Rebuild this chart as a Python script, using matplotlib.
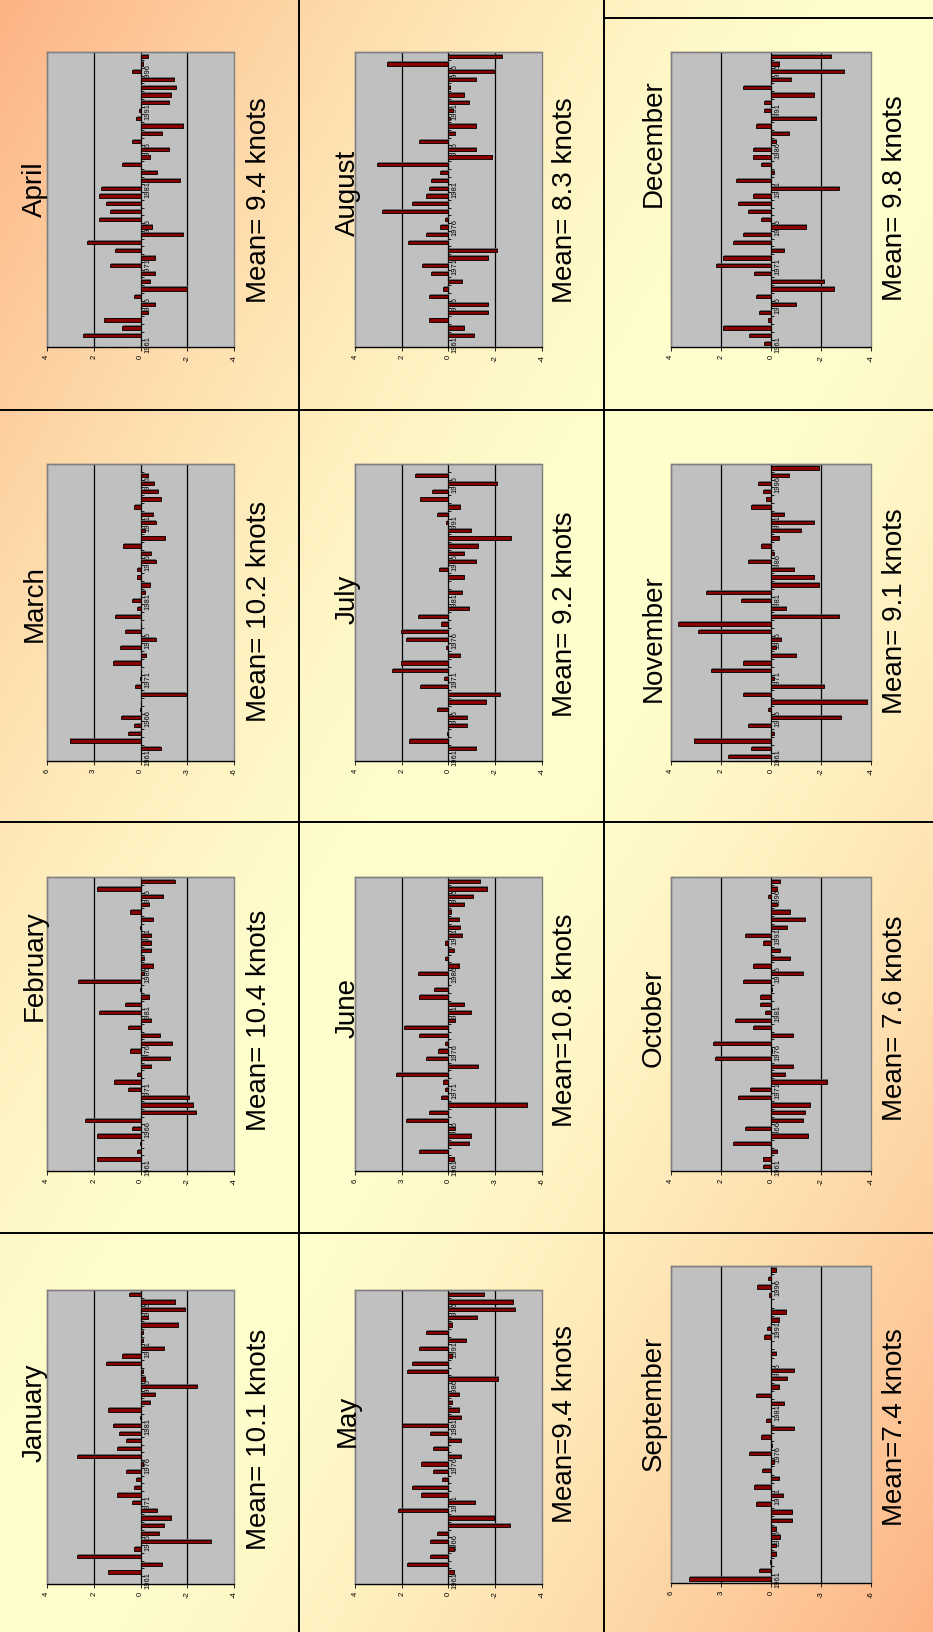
import numpy as np
import matplotlib
matplotlib.use("Agg")
import matplotlib.pyplot as plt
from matplotlib.patches import Rectangle
from matplotlib import patheffects as pe

plt.rcParams['font.family'] = ['Liberation Sans', 'DejaVu Sans']

# ---- data: monthly wind-speed anomalies (knots), 1961-1998 ----
years = list(range(1961, 1999))
label_years = [1961, 1966, 1971, 1976, 1981, 1986, 1991, 1996]

jan = [0, 1.39, -0.9, 2.69, 0.28, -2.99, -0.8, -1.0, -1.29, -0.7, 0.38, 1.0, 0.28, 0.18, 0.6, -0.1,
       2.69, 1.0, 0.6, 0.9, 1.19, 0.02, 1.39, -0.4, -0.6, -2.39, -0.2, -0.1, 1.49, 0.8, -1.0, -0.1,
       -0.1, -1.59, -0.3, -1.89, -1.49, 0.48]
feb = [0, 1.85, 0.15, 0.03, 1.85, 0.36, 2.35, -2.35, -2.25, -2.05, 0.55, 1.15, 0.16, -0.46, -1.25, 0.46,
       -1.35, -0.85, 0.55, -0.46, 1.75, 0.65, -0.36, 0.03, 2.65, -0.14, -0.55, -0.14, -0.46, -0.46, -0.46,
       0.03, -0.55, 0.46, -0.36, -0.95, 1.85, -1.45]
mar = [0, -1.28, 4.54, 0.81, 0.43, 1.24, 0.03, -0.03, -2.88, 0.34, 0.02, -0.03, 1.75, -0.36, 1.32, -0.96,
       1.02, -0.03, 1.62, 0.23, 0.53, -0.26, -0.58, 0.23, 0.23, -0.96, -0.66, 1.13, -1.56, -0.26, -0.96,
       -0.77, 0.43, -1.34, -1.15, -0.87, -0.47, 0]
apr = [0, 2.47, 0.77, 1.56, -0.31, -0.6, 0.28, -2.0, -0.41, -0.6, 1.28, -0.6, 1.07, 2.28, -1.8, -0.5,
       1.78, 1.28, 1.48, 1.78, 1.68, -1.7, -0.71, 0.77, -0.41, -1.21, 0.37, -0.91, -1.8, 0.18, 0.08,
       -1.21, -1.31, -1.51, -1.41, 0.37, -0.11, -0.31]
may = [0, -0.24, 1.77, 0.77, -0.24, 0.77, 0.47, -2.66, -1.94, 2.17, -1.14, 1.17, 1.57, 0.27, 0.67, 1.17,
       -0.54, 0.67, -0.54, 0.77, 1.97, -0.54, -0.44, -0.14, -0.44, 0.02, -2.14, 1.77, 1.57, -0.14, 1.27,
       -0.74, 0.97, -0.14, -1.24, -2.86, -2.76, -1.54]
jun = [0, -0.36, 1.86, -1.33, -1.43, -0.45, 2.72, 1.26, -5.05, 0.45, 0.24, 0.36, 3.38, -1.88, 1.46, 0.69,
       0.24, 1.86, 2.87, -0.45, -1.43, -1.03, 1.86, 0.94, 0.02, 1.97, -0.66, 0.24, -0.36, 0.19, -0.86,
       -0.73, -0.66, -0.15, -1.03, -1.56, -2.46, -2.01]
jul = [0, -1.19, 1.7, 0.05, -0.79, -0.79, 0.5, -1.6, -2.2, 1.21, 0.2, 2.41, 2.01, -0.49, 0.1, 1.81,
       2.01, 0.3, 1.31, -0.89, 0.02, -0.59, 0.02, -0.69, 0.4, -1.19, -0.69, -1.29, -2.69, -0.99, 0.1,
       0.5, -0.49, 1.21, 0.71, -2.09, 1.41, 0.02]
aug = [0, -1.09, -0.69, 0.84, -1.7, -1.7, 0.84, 0.23, -0.59, 0.74, 1.14, -1.7, -2.09, 1.74, 0.94, 0.34,
       0.14, 2.84, 1.54, 0.94, 0.84, 0.74, 0.34, 3.04, -1.89, -1.19, 1.24, -0.29, -1.19, -0.05, -0.19,
       -0.89, -0.69, -0.09, -1.19, -1.99, 2.63, -2.3]
sep = [4.92, 0.72, 0.05, -0.28, -0.28, -0.56, -0.28, -1.27, -1.27, 0.9, -0.7, 1.0, -0.48, 0.52, -0.18,
       1.31, -0.08, 0.62, -1.37, 0.32, 0.02, -0.78, 0.9, -0.48, -0.98, -1.37, 0.02, -0.28, 0.02, 0.42,
       0.22, -0.48, -0.88, 0.02, 0.12, 0.82, 0.2, -0.3]
oct_ = [0.32, 0.32, -0.25, 1.53, -1.46, 1.02, -1.26, -1.35, -1.55, 1.33, 0.82, -2.25, -0.56, -0.86, 2.23,
        -0.05, 2.33, -0.86, 0.73, 1.42, 0.23, 0.42, 0.42, -0.05, 1.13, -1.26, 0.73, -0.76, -0.36, 0.32,
        1.02, -0.65, -1.35, -0.76, -0.25, 0.12, -0.25, -0.36]
nov = [1.7, 0.8, 3.09, -0.1, 0.9, -2.8, 0.11, -3.81, 1.1, -2.1, -0.1, 2.39, 1.1, -1.0, -0.2, -0.4,
       2.9, 3.69, -2.71, -0.6, 1.2, 2.59, -1.9, -1.7, -0.9, 0.9, -0.1, 0.4, -0.3, -1.2, -1.7, -0.5,
       0.8, 0.2, 0.3, 0.5, -0.7, -1.9]
dec = [0.29, 0.89, 1.91, 0.13, 0.49, -1.0, 0.58, -2.5, -2.1, 0.69, 2.2, 1.91, -0.5, 1.51, 1.12, -1.39,
       0.4, 0.92, 1.31, 0.72, -2.7, 1.41, -0.11, 0.4, 0.72, 0.72, -0.2, -0.7, 0.61, -1.79, 0.29, 0.29,
       -1.7, 1.12, -0.8, -2.9, -0.31, -2.4]

months = ["January", "February", "March", "April", "May", "June",
          "July", "August", "September", "October", "November", "December"]
series = [jan, feb, mar, apr, may, jun, jul, aug, sep, oct_, nov, dec]
mean_labels = ["Mean= 10.1 knots", "Mean= 10.4 knots", "Mean= 10.2 knots", "Mean= 9.4 knots",
               "Mean=9.4 knots", "Mean=10.8 knots", "Mean= 9.2 knots", "Mean= 8.3 knots",
               "Mean=7.4 knots", "Mean= 7.6 knots", "Mean= 9.1 knots", "Mean= 9.8 knots"]
axis_limits = [4, 4, 6, 4, 4, 6, 4, 4, 6, 4, 4, 4]

# ---- page geometry (pixels, origin top-left) ----
W, H = 933, 1633
col_x = [(46.7, 234.3), (355.0, 541.7), (670.7, 871.3)]
row_y = [(53.3, 348.3), (465.0, 761.5), (878.3, 1171.7), (1291.3, 1584.7)]
# month -> (column, row); rows counted from the top of the page
cell = {0: (0, 3), 1: (0, 2), 2: (0, 1), 3: (0, 0),
        4: (1, 3), 5: (1, 2), 6: (1, 1), 7: (1, 0),
        8: (2, 3), 9: (2, 2), 10: (2, 1), 11: (2, 0)}
title_x = [35, 348, 654]
mean_x = [259, 565, 895]
title_y = {0: 1413, 1: 966, 2: 604, 3: 189, 4: 1421, 5: 1008, 6: 599, 7: 193,
           8: 1403, 9: 1018, 10: 638, 11: 143}
mean_y = {0: 1439, 1: 1020, 2: 611, 3: 200, 4: 1424, 5: 1020, 6: 614, 7: 200,
          8: 1427, 9: 1018, 10: 611, 11: 198}

fig = plt.figure(figsize=(W / 100, H / 100), dpi=100)

# background: diagonal peach-to-cream gradient
bg = fig.add_axes([0, 0, 1, 1], zorder=0)
u = np.linspace(0, 1, 300)
v = np.linspace(0, 1, 500)
U, V = np.meshgrid(u, v)
d = np.clip(np.abs((U + V) / 2 - 0.5) * 2, 0, 1)
c_light = np.array([255, 255, 206]) / 255
c_dark = np.array([253, 178, 132]) / 255
img = c_light + (c_dark - c_light) * (d[..., None] ** 1.6)
bg.imshow(img, extent=[0, W, H, 0], aspect='auto', interpolation='bilinear')
bg.set_xlim(0, W)
bg.set_ylim(H, 0)
bg.axis('off')

# table rules separating the panels
for x in (299, 604):
    bg.plot([x, x], [0, H], color='black', lw=1.4)
for y in (411, 823, 1234):
    bg.plot([0, W], [y, y], color='black', lw=1.4)
bg.plot([604, W], [19, 19], color='black', lw=1.4)


def draw_panel(ax, vals, lim):
    n = len(vals)
    idx = np.arange(n)
    step = lim / 2
    ax.set_facecolor('#C0C0C0')
    for g in (step, -step):
        ax.axvline(g, color='black', lw=0.9, zorder=1)
    ax.barh(idx, vals, height=0.42, color='#8B0000', edgecolor='black', linewidth=0.6, zorder=3,
            path_effects=[pe.SimplePatchShadow(offset=(0.7, 0.7), shadow_rgbFace='#5a5a5a', alpha=0.8),
                          pe.Normal()])
    ax.set_xlim(lim, -lim)
    ax.set_ylim(-0.5, n - 0.5)

    # plot-area frame
    for s in ('top', 'left'):
        ax.spines[s].set_color('#808080')
        ax.spines[s].set_linewidth(1.0)
    ax.spines['bottom'].set_color('black')
    ax.spines['bottom'].set_linewidth(0.9)
    ax.add_patch(Rectangle((0, 0), 1, 1, transform=ax.transAxes, fill=False,
                           edgecolor='#808080', lw=1.0, zorder=0.5, clip_on=False))

    # category (year) axis crossing at zero
    ax.spines['right'].set_position(('data', 0))
    ax.spines['right'].set_color('black')
    ax.spines['right'].set_linewidth(0.9)
    ax.yaxis.set_ticks_position('right')
    ax.set_yticks([years.index(y) for y in label_years])
    ax.set_yticklabels([str(y) for y in label_years], rotation=90, fontsize=5.5, va='center')
    ax.set_yticks(np.arange(-0.5, n), minor=True)
    ax.tick_params(axis='y', which='major', length=0, pad=2.5, colors='black')
    ax.tick_params(axis='y', which='minor', length=2.2, width=0.6, direction='out', color='black')

    # value axis
    ticks = [lim, step, 0, -step, -lim]
    ax.set_xticks(ticks)
    ax.set_xticklabels([str(int(t)) for t in ticks], rotation=90, fontsize=5.5, va='top')
    ax.tick_params(axis='x', length=3, width=0.6, direction='out', pad=2)


for m in range(12):
    c, r = cell[m]
    x0, x1 = col_x[c]
    y0, y1 = row_y[r]
    if m == 8:
        y0, y1 = 1267.0, 1584.0
    ax = fig.add_axes([x0 / W, 1 - y1 / H, (x1 - x0) / W, (y1 - y0) / H], zorder=2)
    draw_panel(ax, series[m], axis_limits[m])
    fig.text(title_x[c] / W, 1 - title_y[m] / H, months[m], rotation=90,
             ha='center', va='center', fontsize=20, zorder=3)
    fig.text(mean_x[c] / W, 1 - mean_y[m] / H, mean_labels[m], rotation=90,
             ha='center', va='center', fontsize=20, zorder=3)

fig.savefig('out.png', dpi=100)
